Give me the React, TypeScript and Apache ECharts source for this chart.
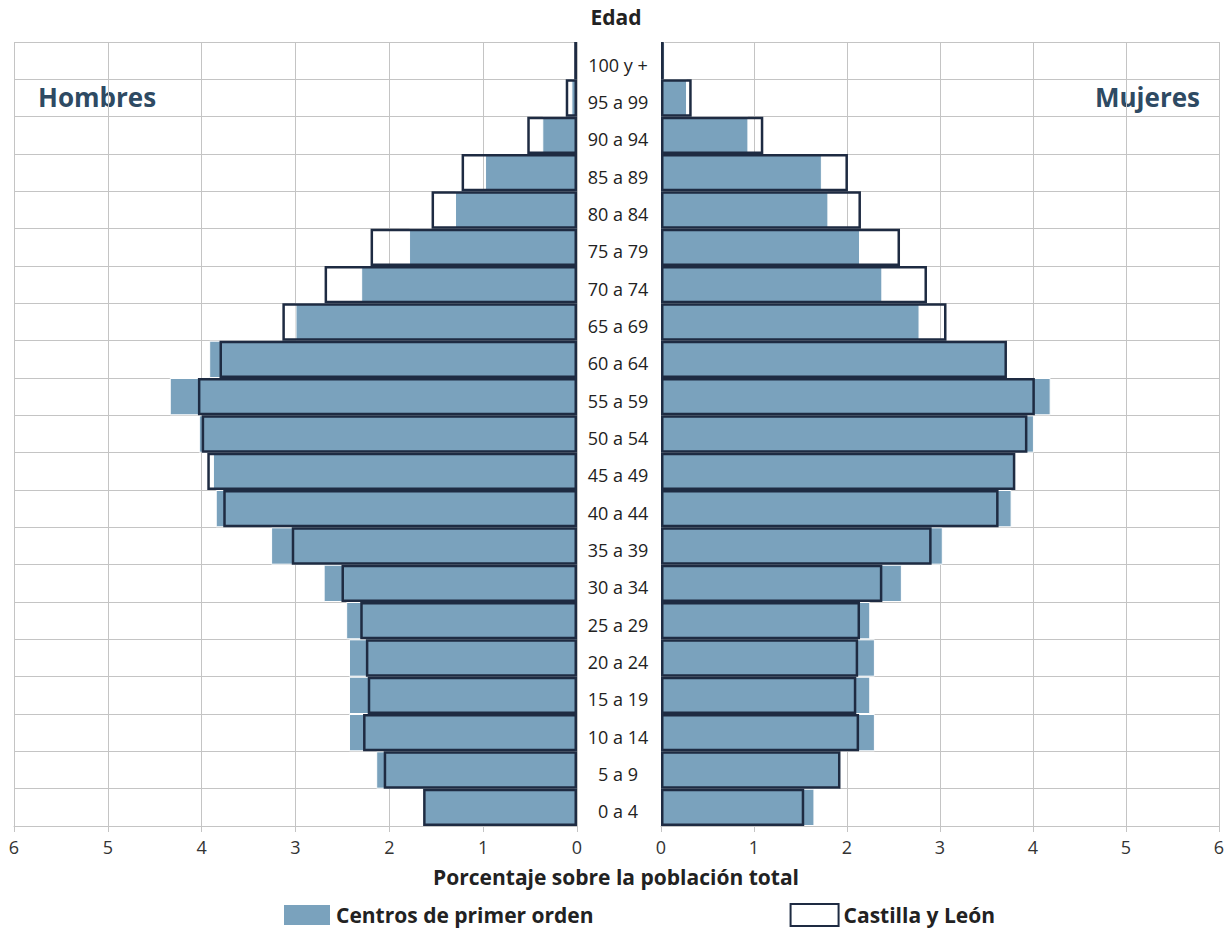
import React, { useEffect, useRef } from "react";
import * as echarts from "echarts";

const categories = [
  "0 a 4", "5 a 9", "10 a 14", "15 a 19", "20 a 24", "25 a 29", "30 a 34",
  "35 a 39", "40 a 44", "45 a 49", "50 a 54", "55 a 59", "60 a 64", "65 a 69",
  "70 a 74", "75 a 79", "80 a 84", "85 a 89", "90 a 94", "95 a 99", "100 y +",
];

// Hombres (left)
const menCentros = [1.63, 2.14, 2.43, 2.43, 2.43, 2.46, 2.70, 3.26, 3.85, 3.88, 4.03, 4.34, 3.92, 3.00, 2.30, 1.79, 1.30, 0.98, 0.37, 0.06, 0.02];
const menCyL = [1.64, 2.06, 2.28, 2.23, 2.25, 2.31, 2.51, 3.04, 3.77, 3.94, 4.00, 4.04, 3.81, 3.14, 2.69, 2.20, 1.55, 1.23, 0.53, 0.12, 0.03];
// Mujeres (right)
const womenCentros = [1.65, 1.92, 2.30, 2.25, 2.30, 2.25, 2.59, 3.03, 3.77, 3.80, 4.01, 4.19, 3.71, 2.78, 2.38, 2.14, 1.80, 1.73, 0.94, 0.28, 0.04];
const womenCyL = [1.54, 1.93, 2.13, 2.10, 2.12, 2.14, 2.38, 2.91, 3.63, 3.81, 3.94, 4.02, 3.72, 3.07, 2.86, 2.57, 2.15, 2.01, 1.10, 0.33, 0.03];

const xTicks = [0, 1, 2, 3, 4, 5, 6];

const SERIES_A = "Centros de primer orden";
const SERIES_B = "Castilla y León";

const BLUE = "#7aa2bd";
const DARK = "#1e2b42";
const GRID = "#c4c4c4";
const FONT = "'Open Sans', 'Noto Sans', sans-serif";

export default function App() {
  const ref = useRef<HTMLDivElement>(null);

  useEffect(() => {
    document.body.style.margin = "0";
    if (!ref.current) return;
    const chart = echarts.init(ref.current, null, { renderer: "svg" });

    const valueAxis = (gridIndex: number, inverse: boolean) => ({
      type: "value",
      gridIndex,
      min: xTicks[0],
      max: xTicks[xTicks.length - 1],
      interval: 1,
      inverse,
      axisLine: { show: true, lineStyle: { color: GRID, width: 1 } },
      axisTick: { show: true, length: 6, lineStyle: { color: GRID } },
      axisLabel: { fontSize: 18, color: "#333", margin: 12, fontFamily: FONT },
      splitLine: { show: true, lineStyle: { color: GRID, width: 1 } },
    });

    const catAxis = (gridIndex: number, showLabels: boolean) => ({
      type: "category",
      gridIndex,
      data: categories,
      position: "right",
      axisLine: { show: false },
      axisTick: { show: false },
      axisLabel: {
        show: showLabels,
        align: "center",
        margin: 41,
        formatter: "{a|{value}}",
        rich: {
          a: {
            fontSize: 18,
            color: "#222",
            fontFamily: FONT,
            padding: [8, 0, 0, 0],
          },
        },
      },
      splitLine: { show: true, lineStyle: { color: GRID, width: 1 } },
    });

    const blueBar = (idx: number, data: number[]) => ({
      name: SERIES_A,
      type: "bar",
      xAxisIndex: idx,
      yAxisIndex: idx,
      data,
      barCategoryGap: "0%",
      itemStyle: { color: BLUE, borderColor: "#fff", borderWidth: 1 },
      z: 2,
    });
    const outlineBar = (idx: number, data: number[]) => ({
      name: SERIES_B,
      type: "bar",
      xAxisIndex: idx,
      yAxisIndex: idx,
      data,
      barGap: "-100%",
      barCategoryGap: "0%",
      itemStyle: { color: "rgba(0,0,0,0)", borderColor: DARK, borderWidth: 2.5 },
      z: 3,
    });

    chart.setOption({
      animation: false,
      textStyle: { fontFamily: FONT },
      grid: [
        { left: 14, top: 42, width: 563, height: 784 },
        { left: 661, top: 42, width: 558, height: 784 },
      ],
      xAxis: [valueAxis(0, true), valueAxis(1, false)],
      yAxis: [catAxis(0, true), catAxis(1, false)],
      legend: {
        data: [
          { name: SERIES_A, icon: "rect" },
          { name: SERIES_B, icon: "rect" },
        ],
        left: 282,
        top: 903,
        padding: 0,
        itemWidth: 48,
        itemHeight: 22,
        itemGap: 196,
        textStyle: { fontSize: 21, fontWeight: "bold", color: "#222", fontFamily: FONT },
        selectedMode: false,
      },
      series: [
        blueBar(0, menCentros),
        outlineBar(0, menCyL),
        blueBar(1, womenCentros),
        outlineBar(1, womenCyL),
      ],
      graphic: [
        {
          type: "text",
          x: 616,
          y: 17,
          style: {
            text: "Edad",
            fontSize: 21,
            fontWeight: "bold",
            fill: "#222",
            fontFamily: FONT,
            align: "center",
            verticalAlign: "middle",
          },
        },
        {
          type: "text",
          x: 38,
          y: 97,
          style: {
            text: "Hombres",
            fontSize: 26,
            fontWeight: "bold",
            fill: "#2e4a63",
            fontFamily: FONT,
            align: "left",
            verticalAlign: "middle",
          },
        },
        {
          type: "text",
          x: 1200,
          y: 97,
          style: {
            text: "Mujeres",
            fontSize: 26,
            fontWeight: "bold",
            fill: "#2e4a63",
            fontFamily: FONT,
            align: "right",
            verticalAlign: "middle",
          },
        },
        {
          type: "text",
          x: 616,
          y: 877,
          style: {
            text: "Porcentaje sobre la población total",
            fontSize: 21,
            fontWeight: "bold",
            fill: "#222",
            fontFamily: FONT,
            align: "center",
            verticalAlign: "middle",
          },
        },
      ],
    });

    return () => chart.dispose();
  }, []);

  return <div ref={ref} style={{ width: 1232, height: 931 }} />;
}
